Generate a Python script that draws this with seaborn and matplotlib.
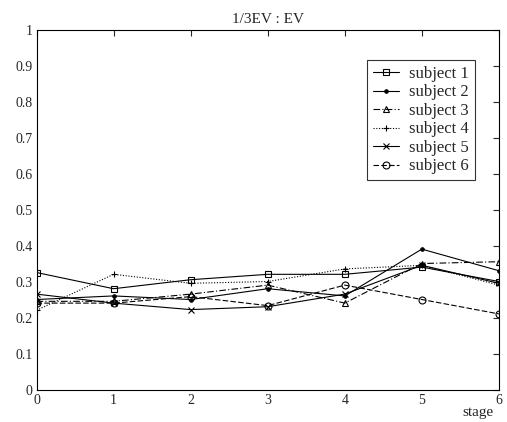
import numpy as np
import pandas as pd
import matplotlib
matplotlib.use("Agg")
import matplotlib.pyplot as plt
import seaborn as sns

# -----------------------------
# data
# -----------------------------
stages = [0, 1, 2, 3, 4, 5, 6]

subject_1 = [0.325, 0.280, 0.305, 0.320, 0.320, 0.340, 0.300]
subject_2 = [0.250, 0.260, 0.250, 0.280, 0.260, 0.390, 0.330]
subject_3 = [0.245, 0.245, 0.265, 0.290, 0.240, 0.350, 0.355]
subject_4 = [0.220, 0.320, 0.295, 0.300, 0.335, 0.345, 0.290]
subject_5 = [0.265, 0.240, 0.222, 0.230, 0.265, 0.345, 0.295]
subject_6 = [0.240, 0.240, 0.258, 0.233, 0.290, 0.250, 0.210]

names = ["subject 1", "subject 2", "subject 3", "subject 4", "subject 5", "subject 6"]
series = [subject_1, subject_2, subject_3, subject_4, subject_5, subject_6]

# -----------------------------
# style
# -----------------------------
sns.set_style("white")
plt.rcParams["font.family"] = ["Liberation Serif", "DejaVu Serif"]

markers = ["s", ".", "^", "+", "x", "o"]
lstyles = ["-", "-", (0, (6, 2, 1, 2)), (0, (1, 1.5)), "-", (0, (5, 2))]

fig = plt.figure(figsize=(5.07, 4.22), dpi=100)
ax = fig.add_axes([0.072, 0.077, 0.912, 0.853])

for name, vals, m, ls in zip(names, series, markers, lstyles):
    df = pd.DataFrame({"stage": stages, "value": vals})
    sns.lineplot(data=df, x="stage", y="value", ax=ax, color="black",
                 linewidth=0.8, linestyle=ls, marker=m, markersize=5,
                 markerfacecolor="none" if m in ("s", "^", "o") else "black",
                 markeredgecolor="black", markeredgewidth=0.8, label=name)

ax.set_xlim(0, 6)
ax.set_ylim(0, 1)
ax.set_xticks(stages)
ax.set_yticks(np.round(np.arange(0, 1.01, 0.1), 1))
ax.set_yticklabels(["0", "0.1", "0.2", "0.3", "0.4", "0.5", "0.6", "0.7", "0.8", "0.9", "1"])
ax.tick_params(direction="in", length=4, width=0.8, top=True, right=True,
               labelsize=10, pad=3)
for s in ax.spines.values():
    s.set_color("black")
    s.set_linewidth(0.8)

ax.set_title("1/3EV : EV", fontsize=11, pad=5)
ax.set_xlabel("stage", fontsize=11)
ax.xaxis.set_label_coords(0.955, -0.045)
ax.set_ylabel("")

leg = ax.legend(loc="upper right", bbox_to_anchor=(0.948, 0.915), fontsize=12,
                frameon=True, fancybox=False, edgecolor="black",
                handlelength=1.6, handletextpad=0.6, borderpad=0.35,
                labelspacing=0.15, borderaxespad=0)
leg.get_frame().set_linewidth(0.8)

fig.savefig("out.png", dpi=100)
